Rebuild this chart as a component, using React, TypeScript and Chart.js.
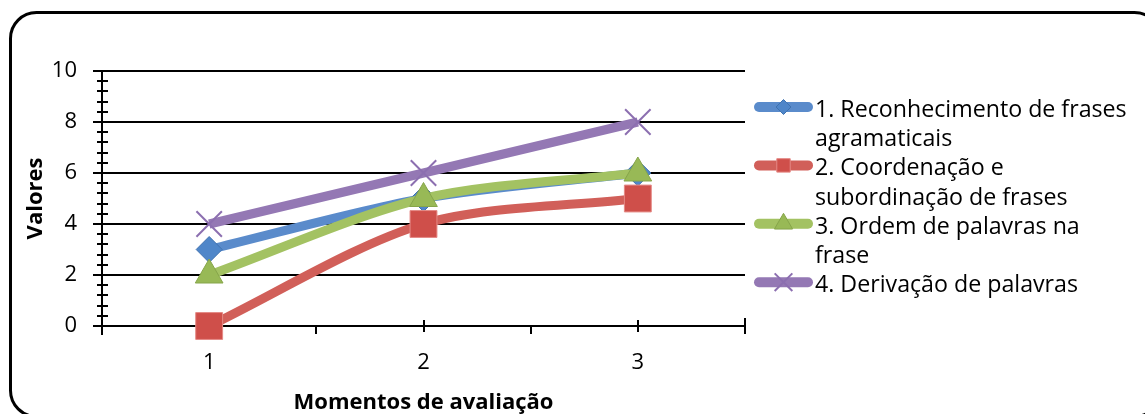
import { useEffect, useRef } from 'react';
import { Chart, registerables } from 'chart.js';

Chart.register(...registerables);

// ---- data ----
const categories = ['1', '2', '3'];
const seriesLabels = [
  '1. Reconhecimento de frases agramaticais',
  '2. Coordenação e subordinação de frases',
  '3. Ordem de palavras na frase',
  '4. Derivação de palavras',
];
const legendLines = [
  ['1. Reconhecimento de frases', 'agramaticais'],
  ['2. Coordenação e', 'subordinação de frases'],
  ['3. Ordem de palavras na', 'frase'],
  ['4. Derivação de palavras'],
];
const reconhecimento = [3, 5, 6];
const coordenacao = [0, 4, 5];
const ordem = [2, 5, 6];
const derivacao = [4, 6, 8];
const yMin = 0;
const yMax = 10;
const yStep = 2;
const yMinorStep = 0.4;
const xTitle = 'Momentos de avaliação';
const yTitle = 'Valores';

// ---- styles ----
const FONT = '"Open Sans", Lato, sans-serif';
const FS = 22;
const LEGEND_FS = 23.2;
const lineColors = ['#5A8BCB', '#D15F59', '#A3C262', '#9478B4'];
const markerFill = ['#4F86C9', '#CF4F4A', '#98B956', '#8C6FB0'];
const markerBorder = ['#3F72B0', '#E58985', '#86A54A', '#8C6FB0'];
const pointStyles = ['rectRot', 'rect', 'triangle', 'crossRot'];
const pointRadii = [13, 19, 16, 18];
const legendRadii = [7.5, 9.5, 10.5, 12.5];

function drawMarker(ctx: CanvasRenderingContext2D, style: string, x: number, y: number, r: number, fill: string, stroke: string, bw: number) {
  ctx.save();
  ctx.beginPath();
  if (style === 'rectRot') {
    ctx.moveTo(x - r, y);
    ctx.lineTo(x, y - r);
    ctx.lineTo(x + r, y);
    ctx.lineTo(x, y + r);
    ctx.closePath();
  } else if (style === 'rect') {
    const s = Math.SQRT1_2 * r;
    ctx.rect(x - s, y - s, 2 * s, 2 * s);
  } else if (style === 'triangle') {
    let a = 0;
    ctx.moveTo(x + Math.sin(a) * r, y - Math.cos(a) * r);
    a += (2 * Math.PI) / 3;
    ctx.lineTo(x + Math.sin(a) * r, y - Math.cos(a) * r);
    a += (2 * Math.PI) / 3;
    ctx.lineTo(x + Math.sin(a) * r, y - Math.cos(a) * r);
    ctx.closePath();
  } else if (style === 'crossRot') {
    const o = Math.SQRT1_2 * r;
    ctx.moveTo(x - o, y - o);
    ctx.lineTo(x + o, y + o);
    ctx.moveTo(x + o, y - o);
    ctx.lineTo(x - o, y + o);
  }
  if (style !== 'crossRot') {
    ctx.fillStyle = fill;
    ctx.fill();
  }
  ctx.strokeStyle = stroke;
  ctx.lineWidth = bw;
  ctx.stroke();
  ctx.restore();
}

const decorPlugin = {
  id: 'decor',
  beforeDatasetsDraw(chart: any) {
    const ctx: CanvasRenderingContext2D = chart.ctx;
    const x = chart.scales.x;
    const y = chart.scales.y;
    const axisY = y.getPixelForValue(yMin);
    const axisX = x.left;
    ctx.save();
    ctx.strokeStyle = '#000';
    ctx.lineWidth = 2;
    for (let v = yMin + yMinorStep; v < yMax - 1e-6; v += yMinorStep) {
      const r = Math.round(v * 10) / 10;
      if (Math.abs(r / yStep - Math.round(r / yStep)) < 1e-6) continue;
      const py = Math.round(y.getPixelForValue(r));
      ctx.beginPath();
      ctx.moveTo(axisX - 5, py);
      ctx.lineTo(axisX + 6, py);
      ctx.stroke();
    }
    const n = categories.length;
    const w = (x.right - x.left) / n;
    for (let i = 0; i < n; i++) {
      const px = Math.round(x.getPixelForValue(i));
      ctx.beginPath();
      ctx.moveTo(px, axisY - 6);
      ctx.lineTo(px, axisY + 6);
      ctx.stroke();
    }
    for (let k = 1; k < n; k++) {
      const px = Math.round(x.left + k * w);
      ctx.beginPath();
      ctx.moveTo(px, axisY);
      ctx.lineTo(px, axisY + 8);
      ctx.stroke();
    }
    ctx.beginPath();
    ctx.moveTo(Math.round(x.right), axisY - 8);
    ctx.lineTo(Math.round(x.right), axisY + 8);
    ctx.stroke();
    ctx.beginPath();
    ctx.moveTo(axisX, axisY);
    ctx.lineTo(axisX, axisY + 9);
    ctx.stroke();
    ctx.restore();
  },
  afterDraw(chart: any) {
    const ctx: CanvasRenderingContext2D = chart.ctx;
    ctx.save();
    const baseY = 117;
    const lh = 29.2;
    let line = 0;
    chart.data.datasets.forEach((ds: any, i: number) => {
      const by = baseY + line * lh;
      const sy = by - 10;
      ctx.save();
      ctx.strokeStyle = lineColors[i];
      ctx.lineWidth = 10;
      ctx.lineCap = 'round';
      ctx.beginPath();
      ctx.moveTo(759, sy);
      ctx.lineTo(808, sy);
      ctx.stroke();
      ctx.restore();
      drawMarker(ctx, pointStyles[i], 783.5, sy, legendRadii[i], markerFill[i], markerBorder[i], pointStyles[i] === 'crossRot' ? 2 : 1);
      ctx.fillStyle = '#000';
      ctx.font = `${LEGEND_FS}px ${FONT}`;
      ctx.textBaseline = 'alphabetic';
      ctx.textAlign = 'left';
      legendLines[i].forEach((t, k) => {
        ctx.fillText(t, 815, by + k * lh);
      });
      line += 2;
    });

    ctx.strokeStyle = '#000';
    ctx.lineWidth = 3;
    ctx.beginPath();
    (ctx as any).roundRect(10.5, 12.5, 1150, 404, 26);
    ctx.stroke();
    ctx.restore();
  },
};

export default function App() {
  const ref = useRef<HTMLCanvasElement | null>(null);
  useEffect(() => {
    document.body.style.margin = '0';
    const series = [reconhecimento, coordenacao, ordem, derivacao];
    const chart = new Chart(ref.current as HTMLCanvasElement, {
      type: 'line',
      data: {
        labels: categories,
        datasets: series.map((d, i) => ({
          label: seriesLabels[i],
          data: d,
          borderColor: lineColors[i],
          borderWidth: 9,
          tension: 0.3,
          fill: false,
          clip: false as any,
          order: series.length - i,
          pointStyle: pointStyles[i] as any,
          pointRadius: pointRadii[i],
          pointHoverRadius: pointRadii[i],
          pointBackgroundColor: markerFill[i],
          pointBorderColor: markerBorder[i],
          pointBorderWidth: pointStyles[i] === 'crossRot' ? 2 : 1,
        })),
      },
      options: {
        animation: false,
        responsive: true,
        maintainAspectRatio: false,
        layout: { padding: { left: 0, top: 71, right: 400, bottom: 0 } },
        plugins: {
          legend: { display: false },
          tooltip: { enabled: false },
        },
        scales: {
          x: {
            type: 'category',
            offset: true,
            grid: { display: false, drawTicks: false },
            border: { display: true, color: '#000', width: 2 },
            ticks: {
              color: '#000',
              font: { family: FONT, size: FS },
              padding: 24,
              maxRotation: 0,
            },
            title: {
              display: true,
              text: xTitle,
              color: '#000',
              font: { family: FONT, size: FS, weight: 'bold', lineHeight: 1 },
              padding: { top: 0, bottom: 0 },
            },
            afterFit(scale: any) {
              scale.height = 88;
            },
          },
          y: {
            min: yMin,
            max: yMax,
            ticks: {
              stepSize: yStep,
              color: '#000',
              font: { family: FONT, size: FS },
              padding: 16,
            },
            grid: { color: '#000', lineWidth: 2, drawTicks: true, tickLength: 9 },
            border: { display: true, color: '#000', width: 2 },
            title: {
              display: true,
              text: yTitle,
              color: '#000',
              font: { family: FONT, size: FS, weight: 'bold', lineHeight: 1.2 },
              padding: { top: 23, bottom: 0 },
            },
            afterFit(scale: any) {
              scale.width = 102;
            },
          },
        },
      },
      plugins: [decorPlugin],
    });
    return () => chart.destroy();
  }, []);
  return (
    <div style={{ position: 'relative', width: '1145px', height: '414px' }}>
      <canvas ref={ref} />
    </div>
  );
}
